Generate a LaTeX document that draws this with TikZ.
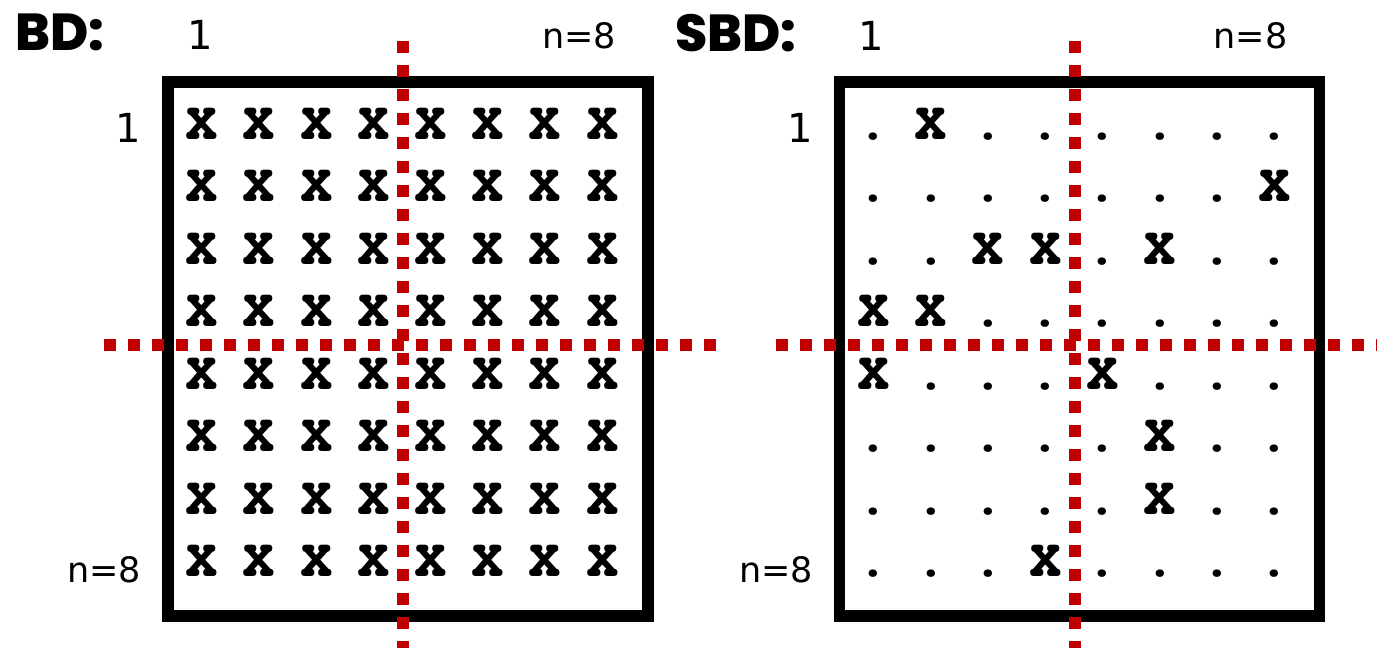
\documentclass[tikz,border=0pt]{standalone}
\usepackage{fontspec}
\usepackage{graphicx}
\setmainfont{DejaVu Sans}
\IfFontExistsTF{TeX Gyre Cursor}
  {\newfontfamily\cellfont{TeX Gyre Cursor}}
  {\newfontfamily\cellfont{Liberation Mono}}
\IfFontExistsTF{Poppins ExtraBold}
  {\newfontfamily\titlefont{Poppins ExtraBold}}
  {\IfFontExistsTF{Poppins Black}
     {\newfontfamily\titlefont{Poppins Black}}
     {\newfontfamily\titlefont{Poppins}[UprightFont=*-Bold]}}
\definecolor{dotred}{RGB}{192,0,0}
\newcommand\cx{\scalebox{0.97}[1.28]{x}}
\begin{document}
\begin{tikzpicture}[x=1pt,y=-1pt,
  cellmark/.style={font=\cellfont\bfseries\fontsize{56}{56}\selectfont, inner sep=0pt, anchor=base},
  biglab/.style={font=\fontsize{40}{40}\selectfont, inner sep=0pt, anchor=base},
  nlab/.style={font=\fontsize{35}{35}\selectfont, inner sep=0pt, anchor=base},
  titletext/.style={font=\titlefont\fontsize{52}{52}\selectfont, inner sep=0pt, anchor=base west},
  boxframe/.style={draw=black, line width=11.5pt, inner sep=0pt, minimum width=480pt, minimum height=534pt},
  reddots/.style={draw=dotred, line width=12pt, dash pattern=on 12pt off 12pt}]
\useasboundingbox (0,0) rectangle (1377,648);
\clip (0,0) rectangle (1377,648);

% titles
\node[titletext] (tBD) at (15,50) {BD:};
\node[titletext] (tSBD) at (675,51) {SBD:};

% frames
\node[boxframe] (LB) at (408,349) {};
\node[boxframe] (RB) at (1079.5,349) {};

% labels left grid
\node[biglab] (L1top) at (200,49) {1};
\node[nlab] (Lntop) at (579,48) {n=8};
\node[biglab] (L1left) at (128,142) {1};
\node[nlab] (Lnleft) at (104,582) {n=8};

% labels right grid
\node[biglab] (R1top) at (871,50) {1};
\node[nlab] (Rntop) at (1250.5,48) {n=8};
\node[biglab] (R1left) at (800,142) {1};
\node[nlab] (Rnleft) at (776,582) {n=8};

% left grid: all x
\foreach \r in {1,...,8}
  \foreach \c in {1,...,8}
    \node[cellmark] (L\r-\c) at ({202+(\c-1)*57.2},{139+(\r-1)*62.5}) {\cx};

% right grid: sparse pattern
\foreach \r/\row in {
  1/{.,\cx,.,.,.,.,.,.},
  2/{.,.,.,.,.,.,.,\cx},
  3/{.,.,\cx,\cx,.,\cx,.,.},
  4/{\cx,\cx,.,.,.,.,.,.},
  5/{\cx,.,.,.,\cx,.,.,.},
  6/{.,.,.,.,.,\cx,.,.},
  7/{.,.,.,.,.,\cx,.,.},
  8/{.,.,.,\cx,.,.,.,.}}
  \foreach \s [count=\c] in \row
    \node[cellmark] (R\r-\c) at ({873.5+(\c-1)*57.3},{139+(\r-1)*62.5}) {\s};

% red dotted dividers
\coordinate (LVt) at (403,41);
\coordinate (LVb) at (403,680);
\coordinate (LHl) at (104,345);
\coordinate (LHr) at (716,345);
\coordinate (RVt) at (1075,41);
\coordinate (RVb) at (1075,680);
\coordinate (RHl) at (776,345);
\coordinate (RHr) at (1400,345);
\draw[reddots] (LVt) -- (LVb);
\draw[reddots] (LHl) -- (LHr);
\draw[reddots] (RVt) -- (RVb);
\draw[reddots] (RHl) -- (RHr);
\end{tikzpicture}
\end{document}
